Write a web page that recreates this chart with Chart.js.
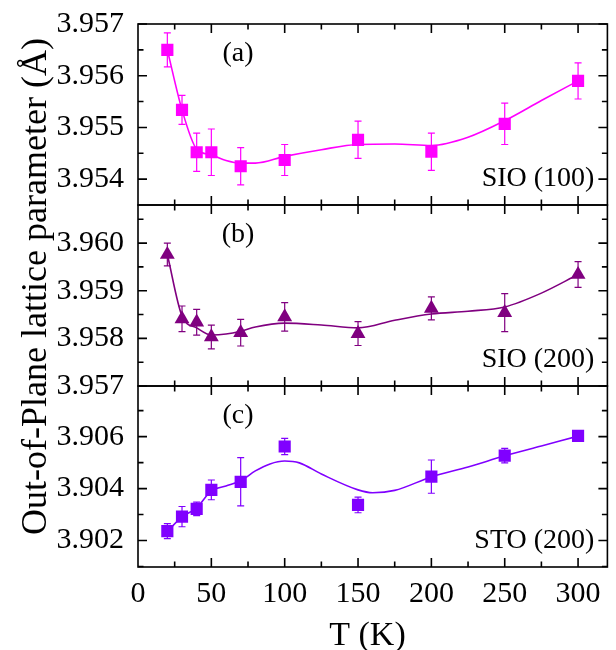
<!DOCTYPE html>
<html>
<head>
<meta charset="utf-8">
<script src="https://cdn.jsdelivr.net/npm/chart.js@4.4.0/dist/chart.umd.min.js"></script>
<style>
  body { margin: 0; background: #fff; }
  canvas { display: block; }
</style>
</head>
<body>
<canvas id="latticeChart" width="616" height="650"></canvas>
<script>
'use strict'

//data
const temps = [20, 30, 40, 50, 70, 100, 150, 200, 250, 300];

const sio100 = [3.95650, 3.95534, 3.95452, 3.95452, 3.95425, 3.95437, 3.95476, 3.95453, 3.95507, 3.95590];
const sio100Err = [0.00033, 0.00028, 0.00037, 0.00045, 0.00036, 0.00030, 0.00036, 0.00036, 0.00040, 0.00035];

const sio200 = [3.95976, 3.95841, 3.95834, 3.95803, 3.95812, 3.95845, 3.95810, 3.95863, 3.95854, 3.95934];
const sio200Err = [0.00024, 0.00027, 0.00027, 0.00025, 0.00028, 0.00030, 0.00025, 0.00024, 0.00040, 0.00027];

const sto200 = [3.90236, 3.90292, 3.90322, 3.90395, 3.90426, 3.90562, 3.90337, 3.90446, 3.90527, 3.90603];
const sto200Err = [0.00029, 0.00039, 0.00026, 0.00038, 0.00093, 0.00031, 0.00030, 0.00064, 0.00028, 0.00010];

// smooth guide curves
const fitT = [20, 30, 40, 50, 60, 70, 80, 100, 125, 150, 175, 200, 225, 250, 275, 300];
const sio100Fit = [3.95650, 3.95534, 3.95458, 3.95447, 3.95436, 3.95431, 3.95431, 3.95444, 3.95457, 3.95467, 3.95468, 3.95465, 3.95481, 3.95513, 3.95552, 3.95590];
const sio200Fit = [3.95976, 3.95847, 3.95822, 3.95807, 3.95809, 3.95815, 3.95824, 3.95832, 3.95828, 3.95822, 3.95838, 3.95851, 3.95857, 3.95866, 3.95895, 3.95934];

const stoFitT = [20, 30, 40, 50, 60, 70, 80, 90, 100, 110, 125, 150, 160, 175, 200, 225, 250, 275, 300];
const sto200Fit = [3.90235, 3.90291, 3.90326, 3.90391, 3.90410, 3.90430, 3.90468, 3.90495, 3.90506, 3.90499, 3.90456, 3.90395, 3.90384, 3.90393, 3.90445, 3.90483, 3.90526, 3.90564, 3.90602];

// tick labels
const xTicks = [0, 50, 100, 150, 200, 250, 300];
const sio100Ticks = [3.954, 3.955, 3.956, 3.957];
const sio200Ticks = [3.957, 3.958, 3.959, 3.960];
const sto200Ticks = [3.902, 3.904, 3.906];

const panelNames = ['(a)', '(b)', '(c)'];
const panelTags = ['SIO (100)', 'SIO (200)', 'STO (200)'];

const MAGENTA = '#ff00ff';
const PURPLE = '#800080';
const VIOLET = '#8000ff';
const SERIF = '"Liberation Serif", "Times New Roman", "DejaVu Serif", serif';

function pairs(xs, ys) {
  return xs.map((x, i) => ({ x: x, y: ys[i] }));
}

function fitLine(xs, ys, color, axis) {
  return {
    data: pairs(xs, ys),
    yAxisID: axis,
    borderColor: color,
    borderWidth: 1.6,
    pointRadius: 0,
    cubicInterpolationMode: 'monotone',
    showLine: true,
    fill: false
  };
}

function markers(ys, errs, color, style, axis) {
  return {
    data: pairs(temps, ys),
    errors: errs,
    yAxisID: axis,
    showLine: false,
    pointStyle: style,
    pointRadius: 8.6,
    pointBackgroundColor: color,
    pointBorderColor: color,
    pointBorderWidth: 0,
    borderColor: color
  };
}

function panelAxis(min, max, ticks) {
  return {
    type: 'linear',
    position: 'left',
    stack: 'panels',
    stackWeight: 1,
    min: min,
    max: max,
    grid: { display: false },
    border: { display: false },
    afterBuildTicks: (scale) => {
      scale.ticks = ticks.map(v => ({ value: v }));
    },
    afterFit: (scale) => {
      scale.width = 138;
    },
    ticks: {
      color: '#000',
      padding: 6,
      autoSkip: false,
      font: { family: SERIF, size: 30 },
      callback: (v) => Number(v).toFixed(3)
    }
  };
}

// error bars, frames, inward ticks and captions
const decorPlugin = {
  id: 'decor',
  beforeDatasetsDraw(chart) {
    const ctx = chart.ctx;
    const xs = chart.scales.x;
    chart.data.datasets.forEach((ds) => {
      if (!ds.errors) return;
      const ys = chart.scales[ds.yAxisID];
      ctx.save();
      ctx.strokeStyle = ds.borderColor;
      ctx.lineWidth = 1.2;
      ds.data.forEach((p, j) => {
        const px = xs.getPixelForValue(p.x);
        const top = ys.getPixelForValue(p.y + ds.errors[j]);
        const bot = ys.getPixelForValue(p.y - ds.errors[j]);
        ctx.beginPath();
        ctx.moveTo(px, top);
        ctx.lineTo(px, bot);
        ctx.moveTo(px - 3.5, top);
        ctx.lineTo(px + 3.5, top);
        ctx.moveTo(px - 3.5, bot);
        ctx.lineTo(px + 3.5, bot);
        ctx.stroke();
      });
      ctx.restore();
    });
  },
  afterDraw(chart) {
    const ctx = chart.ctx;
    const area = chart.chartArea;
    const xs = chart.scales.x;
    const panels = [
      { scale: chart.scales.yA, ticks: sio100Ticks },
      { scale: chart.scales.yB, ticks: sio200Ticks },
      { scale: chart.scales.yC, ticks: sto200Ticks }
    ];

    ctx.save();
    ctx.strokeStyle = '#000';
    ctx.lineWidth = 1.6;

    panels.forEach((p, k) => {
      const s = p.scale;
      ctx.strokeRect(area.left, s.top, area.right - area.left, s.bottom - s.top);

      ctx.beginPath();
      // y ticks, major and half-step minor
      const step = p.ticks[1] - p.ticks[0];
      p.ticks.forEach((v) => {
        const py = s.getPixelForValue(v);
        ctx.moveTo(area.left, py); ctx.lineTo(area.left + 9, py);
        ctx.moveTo(area.right, py); ctx.lineTo(area.right - 9, py);
      });
      for (let v = p.ticks[0] - step / 2; v < s.max; v += step) {
        if (v <= s.min) continue;
        const py = s.getPixelForValue(v);
        ctx.moveTo(area.left, py); ctx.lineTo(area.left + 5.5, py);
        ctx.moveTo(area.right, py); ctx.lineTo(area.right - 5.5, py);
      }
      // x ticks on top and bottom edges
      for (let t = 25; t < xs.max; t += 25) {
        const len = t % 50 === 0 ? 9 : 5.5;
        const px = xs.getPixelForValue(t);
        ctx.moveTo(px, s.top); ctx.lineTo(px, s.top + len);
        ctx.moveTo(px, s.bottom); ctx.lineTo(px, s.bottom - len);
      }
      ctx.stroke();

      ctx.fillStyle = '#000';
      ctx.font = '28px ' + SERIF;
      ctx.textBaseline = 'middle';
      ctx.textAlign = 'center';
      ctx.fillText(panelNames[k], 238, s.top + 30);
      ctx.textAlign = 'right';
      ctx.fillText(panelTags[k], area.right - 13, s.bottom - 26);
    });

    // axis titles
    ctx.fillStyle = '#000';
    ctx.textBaseline = 'alphabetic';
    ctx.textAlign = 'center';
    ctx.font = '34px ' + SERIF;
    ctx.fillText('T (K)', 367.5, 645);

    ctx.translate(46, 286.5);
    ctx.rotate(-Math.PI / 2);
    ctx.font = '36px ' + SERIF;
    ctx.fillText('Out-of-Plane lattice parameter (\u00c5)', 0, 0);
    ctx.restore();
  }
};

const config = {
  type: 'scatter',
  data: {
    datasets: [
      fitLine(fitT, sio100Fit, MAGENTA, 'yA'),
      fitLine(fitT, sio200Fit, PURPLE, 'yB'),
      fitLine(stoFitT, sto200Fit, VIOLET, 'yC'),
      markers(sio100, sio100Err, MAGENTA, 'rect', 'yA'),
      markers(sio200, sio200Err, PURPLE, 'triangle', 'yB'),
      markers(sto200, sto200Err, VIOLET, 'rect', 'yC')
    ]
  },
  options: {
    responsive: false,
    animation: false,
    layout: { padding: { left: 0, right: 7, top: 23, bottom: 0 } },
    plugins: {
      legend: { display: false },
      tooltip: { enabled: false }
    },
    scales: {
      x: {
        type: 'linear',
        position: 'bottom',
        min: 0,
        max: 320,
        grid: { display: false },
        border: { display: false },
        afterBuildTicks: (scale) => {
          scale.ticks = xTicks.map(v => ({ value: v }));
        },
        afterFit: (scale) => {
          scale.height = 83;
        },
        ticks: {
          color: '#000',
          padding: 1,
          maxRotation: 0,
          autoSkip: false,
          font: { family: SERIF, size: 30 }
        }
      },
      // stacked panels are laid out bottom-up, so (c) comes first
      yC: panelAxis(3.90098, 3.90795, sto200Ticks),
      yB: panelAxis(3.957, 3.9608, sio200Ticks),
      yA: panelAxis(3.9535, 3.957, sio100Ticks)
    }
  },
  plugins: [decorPlugin]
};

const myChart = new Chart(document.getElementById('latticeChart'), config);
</script>
</body>
</html>
